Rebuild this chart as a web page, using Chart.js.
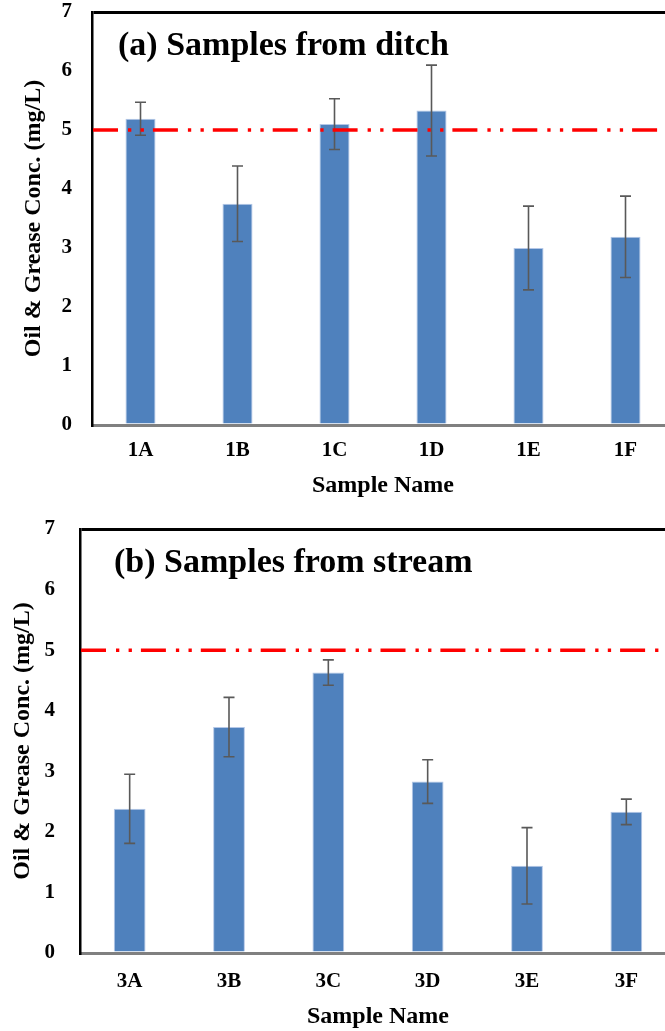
<!DOCTYPE html>
<html>
<head>
<meta charset="utf-8">
<script src="https://cdn.jsdelivr.net/npm/chart.js@4.4.0/dist/chart.umd.min.js"></script>
<style>
  html, body { margin: 0; padding: 0; background: #fff; overflow: hidden; width: 665px; height: 1031px; }
  .panel { position: absolute; left: 0; }
</style>
</head>
<body>
<div class="panel" style="top:0"><canvas id="ditch" width="674" height="500"></canvas></div>
<div class="panel" style="top:517px"><canvas id="stream" width="676" height="514"></canvas></div>

<script>
// oil & grease results (mg/L), mean and std dev per sample
const ditchLabels = ["1A", "1B", "1C", "1D", "1E", "1F"];
const ditchMean   = [5.19, 3.75, 5.10, 5.33, 3.00, 3.19];
const ditchSD     = [0.28, 0.64, 0.43, 0.77, 0.71, 0.69];

const streamLabels = ["3A", "3B", "3C", "3D", "3E", "3F"];
const streamMean   = [2.38, 3.73, 4.63, 2.83, 1.44, 2.33];
const streamSD     = [0.57, 0.49, 0.21, 0.36, 0.63, 0.21];

const yTicks = [0, 1, 2, 3, 4, 5, 6, 7];
const LIMIT = 5; // discharge limit

const SERIF = '"Liberation Serif", "Times New Roman", serif';
Chart.defaults.color = '#000';
Chart.defaults.font.family = SERIF;

// whiskers on top of each bar
const errorBars = {
  id: 'errorBars',
  afterDatasetsDraw(chart, args, opts) {
    const ctx = chart.ctx, y = chart.scales.y;
    const meta = chart.getDatasetMeta(0);
    ctx.save();
    ctx.strokeStyle = '#595959';
    ctx.lineWidth = 1.6;
    opts.sd.forEach((sd, i) => {
      const v = chart.data.datasets[0].data[i];
      const x = meta.data[i].x;
      const hi = y.getPixelForValue(v + sd), lo = y.getPixelForValue(v - sd);
      ctx.beginPath();
      ctx.moveTo(x, hi); ctx.lineTo(x, lo);
      ctx.moveTo(x - 5.5, hi); ctx.lineTo(x + 5.5, hi);
      ctx.moveTo(x - 5.5, lo); ctx.lineTo(x + 5.5, lo);
      ctx.stroke();
    });
    ctx.restore();
  }
};

// red dash-dot-dot limit line across the plot
const limitLine = {
  id: 'limitLine',
  afterDatasetsDraw(chart) {
    const ctx = chart.ctx, a = chart.chartArea;
    const py = chart.scales.y.getPixelForValue(LIMIT);
    ctx.save();
    ctx.strokeStyle = '#ff0000';
    ctx.lineWidth = 3.5;
    ctx.setLineDash([25, 10, 3.3, 9.3, 3.3, 9]);
    ctx.beginPath();
    ctx.moveTo(a.left + 1, py);
    ctx.lineTo(a.right, py);
    ctx.stroke();
    ctx.restore();
  }
};

// panel heading written inside the plot
const heading = {
  id: 'heading',
  afterDraw(chart, args, opts) {
    const ctx = chart.ctx, a = chart.chartArea;
    ctx.save();
    ctx.font = 'bold 34px ' + SERIF;
    ctx.fillStyle = '#000';
    ctx.textBaseline = 'middle';
    ctx.fillText(opts.text, a.left + opts.dx, a.top + opts.dy);
    ctx.restore();
  }
};

function makePanel(id, labels, mean, sd, title, lay) {
  return new Chart(document.getElementById(id), {
    type: 'bar',
    data: {
      labels: labels,
      datasets: [{
        data: mean,
        backgroundColor: '#4f81bd',
        borderColor: '#b4c7e7',
        borderWidth: 1,
        barPercentage: lay.bar,
        categoryPercentage: 1
      }]
    },
    options: {
      responsive: false,
      animation: false,
      layout: { padding: { top: 12, left: 0, right: 0, bottom: 0 } },
      plugins: {
        legend: { display: false },
        tooltip: { enabled: false },
        errorBars: { sd: sd },
        heading: { text: title, dx: lay.hx, dy: lay.hy }
      },
      scales: {
        x: {
          z: 1,
          grid: { color: 'transparent', drawTicks: false },
          border: { color: '#808080', width: 3 },
          ticks: { font: { size: 21, weight: 'bold' }, padding: lay.xpad, maxRotation: 0 },
          title: { display: true, text: 'Sample Name', font: { size: 24, weight: 'bold' }, padding: 0 },
          afterFit(s) { s.height = lay.xh; }
        },
        y: {
          min: 0, max: 7,
          afterBuildTicks(s) { s.ticks = yTicks.map(v => ({ value: v })); },
          grid: {
            drawTicks: false,
            lineWidth: 3,
            color: c => (c.tick && c.tick.value === 7) ? '#000' : 'transparent'
          },
          border: { color: '#000', width: 2.5 },
          ticks: { font: { size: 21, weight: 'bold' }, padding: lay.ypad },
          title: {
            display: true, text: 'Oil & Grease Conc. (mg/L)',
            font: { size: 24, weight: 'bold' }, padding: { top: lay.tpad, bottom: 0 }
          },
          afterFit(s) {
            s.width = lay.yw;
            // label padding must not push the plot down
            s.paddingTop = 12;
            s.paddingBottom = 12;
          }
        }
      }
    },
    plugins: [errorBars, limitLine, heading]
  });
}

makePanel('ditch', ditchLabels, ditchMean, ditchSD, '(a) Samples from ditch',
  { yw: 92, xh: 75, xpad: 13, ypad: 20, tpad: 19, bar: 0.31, hx: 26, hy: 34 });
makePanel('stream', streamLabels, streamMean, streamSD, '(b) Samples from stream',
  { yw: 80, xh: 78, xpad: 16, ypad: 25, tpad: 8, bar: 0.32, hx: 34, hy: 34 });
</script>
</body>
</html>
